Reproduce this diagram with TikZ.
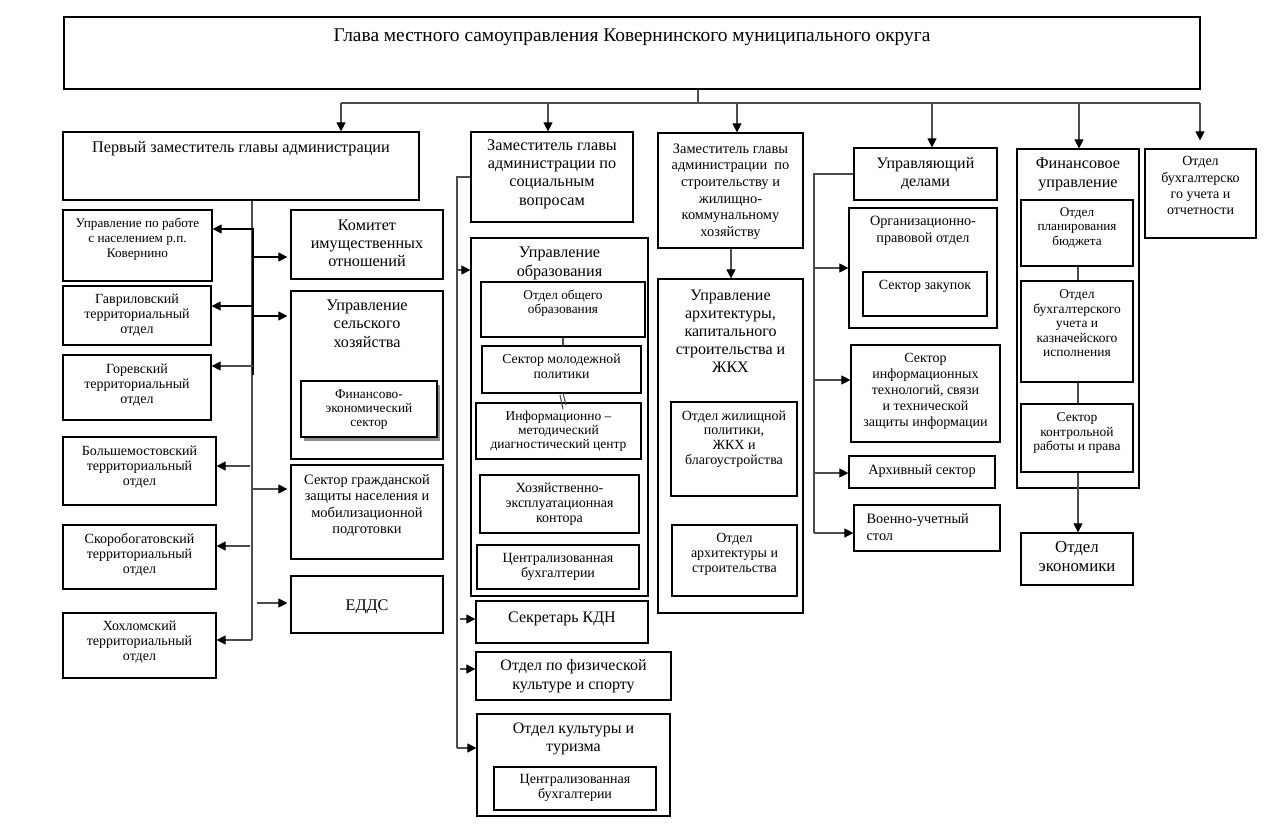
\documentclass[tikz,border=0pt]{standalone}
\usepackage{fontspec}
\setmainfont{Liberation Serif}
\usetikzlibrary{arrows.meta,fit,shadows,calc}
\newcommand\mybox[6][]{\node[box,#1,fit={(#3,#4) (#5,#6)}] (#2) {};}
\tikzset{
 box/.style={draw=black, line width=1.2pt, inner sep=0pt, fill=white},
 conn/.style={draw=black!70, line width=1.1pt},
 dark/.style={draw=black, line width=1.1pt},
 arr/.style={conn, -{Triangle[length=9pt,width=9pt,color=black]}},
 darr/.style={dark, -{Triangle[length=9pt,width=9pt,color=black]}},
 txt/.style={align=center, inner sep=0pt, anchor=north},
 fs/.style 2 args={font=\fontsize{#1}{#2}\selectfont},
 shd/.style={drop shadow={shadow xshift=3pt,shadow yshift=-4pt,fill=black!45,opacity=1}},
}
\begin{document}
\begin{tikzpicture}[x=1pt,y=-1pt]
\useasboundingbox (0,0) rectangle (1282,833);
% ---------- boxes ----------
\mybox{glava}{64}{17}{1200}{89}
\mybox{pervy}{63}{132}{419}{200}
\mybox{zsoc}{471}{132}{633}{222}
\mybox{zstr}{658}{133}{803}{248}
\mybox{upd}{854}{148}{997}{200}
\mybox{fin}{1017}{149}{1139}{488}
\mybox{obu}{1145}{149}{1256}{238}
\mybox{uprab}{63}{210}{212}{281}
\mybox{gavr}{63}{286}{211}{345}
\mybox{gorev}{63}{355}{211}{420}
\mybox{bolsh}{63}{437}{216}{505}
\mybox{skor}{63}{525}{216}{589}
\mybox{hohl}{63}{613}{216}{678}
\mybox{kom}{291}{210}{443}{279}
\mybox{selh}{291}{291}{443}{459}
\mybox[shd]{finek}{301}{381}{437}{437}
\mybox{grazh}{291}{465}{443}{559}
\mybox{edds}{291}{576}{443}{633}
\mybox{obr}{471}{238}{648}{596}
\mybox{obsh}{481}{282}{645}{337}
\mybox{molod}{482}{346}{641}{393}
\mybox{inform}{476}{403}{641}{459}
\mybox{hoz}{480}{475}{639}{533}
\mybox{cbuhA}{477}{545}{639}{589}
\mybox{kdn}{476}{601}{648}{643}
\mybox{fiz}{476}{652}{671}{700}
\mybox{kult}{477}{714}{670}{816}
\mybox{cbuhB}{494}{767}{656}{810}
\mybox{arh}{658}{279}{803}{613}
\mybox{zhil}{671}{402}{797}{496}
\mybox{arhstr}{672}{525}{797}{596}
\mybox{orgpr}{849}{208}{997}{328}
\mybox{zakup}{863}{272}{987}{316}
\mybox{infteh}{851}{345}{1000}{442}
\mybox{arhiv}{849}{456}{995}{488}
\mybox{voen}{854}{505}{1000}{551}
\mybox{plan}{1021}{200}{1133}{266}
\mybox{buhkazn}{1021}{281}{1133}{382}
\mybox{kontr}{1021}{404}{1133}{472}
\mybox{ekon}{1021}{533}{1133}{585}
% ---------- top bus ----------
\coordinate (j0) at (698,103);
\coordinate (d1) at (341,103);
\coordinate (d2) at (548,103);
\coordinate (d3) at (737,103);
\coordinate (d4) at (932,103);
\coordinate (d5) at (1079,103);
\coordinate (d6) at (1200,103);
\draw[conn] (j0 |- glava.south) -- (j0);
\draw[conn] (d1) -- (d6);
\draw[arr] (d1) -- (d1 |- pervy.north);
\draw[arr] (d2) -- (d2 |- zsoc.north);
\draw[arr] (d3) -- (d3 |- zstr.north);
\draw[arr] (d4) -- (d4 |- upd.north);
\draw[arr] (d5) -- (d5 |- fin.north);
\draw[arr, shorten >=8pt] (d6) -- (d6 |- obu.north);
% ---------- first deputy trunk ----------
\coordinate (p0) at (252,640);
\coordinate (pk1) at (253,228);
\coordinate (pk2) at (253,375);
\draw[conn] (p0 |- pervy.south) -- (p0);
\draw[dark] (pk1) -- (pk2);
\coordinate (pl1) at (253,229);
\coordinate (pl2) at (253,306);
\coordinate (pl3) at (253,366);
\coordinate (pl4) at (250,466);
\coordinate (pl5) at (250,546);
\coordinate (pl6) at (252,640);
\draw[darr] (pl1) -- (pl1 -| uprab.east);
\draw[darr] (pl2) -- (pl2 -| gavr.east);
\draw[arr] (pl3) -- (pl3 -| gorev.east);
\draw[arr] (pl4) -- (pl4 -| bolsh.east);
\draw[arr] (pl5) -- (pl5 -| skor.east);
\draw[arr] (pl6) -- (pl6 -| hohl.east);
\coordinate (pr1) at (253,257);
\coordinate (pr2) at (253,316);
\coordinate (pr3) at (253,489);
\coordinate (pr4) at (257,603);
\draw[darr, shorten >=3pt] (pr1) -- (pr1 -| kom.west);
\draw[darr, shorten >=3pt] (pr2) -- (pr2 -| selh.west);
\draw[arr, shorten >=3pt] (pr3) -- (pr3 -| grazh.west);
\draw[arr, shorten >=3pt] (pr4) -- (pr4 -| edds.west);
% ---------- social deputy trunk ----------
\coordinate (s0) at (457,748);
\draw[conn] (zsoc.west) -| (s0);
\coordinate (sa) at (457,270);
\coordinate (sb) at (460,619);
\coordinate (sc) at (460,669);
\draw[arr] (sa) -- (sa -| obr.west);
\draw[arr] (sb) -- (sb -| kdn.west);
\draw[arr] (sc) -- (sc -| fiz.west);
\draw[arr] (s0) -- (s0 -| kult.west);
\coordinate (ob1) at (563,0);
\draw[conn] (ob1 |- obsh.south) -- (ob1 |- molod.north);
\coordinate (sl1) at (560,395);
\coordinate (sl2) at (563,393);
\draw[conn] (sl1) -- ++(3,14);
\draw[conn] (sl2) -- ++(3,12);
% ---------- construction deputy ----------
\coordinate (za) at (731,0);
\draw[arr] (za |- zstr.south) -- (za |- arh.north);
% ---------- managing affairs trunk ----------
\coordinate (u0) at (814,533);
\draw[conn] (upd.west) -| (u0);
\coordinate (ua) at (814,268);
\coordinate (ub) at (814,380);
\coordinate (uc) at (814,473);
\draw[arr] (ua) -- (ua -| orgpr.west);
\draw[arr] (ub) -- (ub -| infteh.west);
\draw[arr] (uc) -- (uc -| arhiv.west);
\draw[arr] (u0) -- (u0 -| voen.west);
% ---------- finance ----------
\coordinate (fx) at (1078,0);
\draw[conn] (fx |- plan.south) -- (fx |- buhkazn.north);
\draw[conn] (fx |- buhkazn.south) -- (fx |- kontr.north);
\draw[arr] (fx |- kontr.south) -- (fx |- ekon.north);
% ---------- texts ----------
\node[txt,fs={19.4}{21}] (glava-t) at ([yshift=-12pt]glava.north) {Глава местного самоуправления Ковернинского муниципального округа};
\node[txt,fs={16.2}{18}] (pervy-t) at ([yshift=-10pt]pervy.north) {Первый заместитель главы администрации};
\node[txt,fs={16.2}{18.3}] (zsoc-t) at ([yshift=-8pt]zsoc.north) {Заместитель главы\\администрации по\\социальным\\вопросам};
\node[txt,fs={14.4}{16.7}] (zstr-t) at ([yshift=-11pt]zstr.north) {Заместитель главы\\администрации\ \ по\\строительству и\\жилищно-\\коммунальному\\хозяйству};
\node[txt,fs={16}{18}] (upd-t) at ([yshift=-10pt]upd.north) {Управляющий\\делами};
\node[txt,fs={16.2}{19}] (fin-t) at ([yshift=-9pt]fin.north) {Финансовое\\управление};
\node[txt,fs={14}{16.3}] (obu-t) at ([yshift=-8pt]obu.north) {Отдел\\бухгалтерско\\го учета и\\отчетности};
\node[txt,fs={13.2}{15}] (uprab-t) at ([yshift=-8pt]uprab.north) {Управление по работе\\с населением р.п.\\Ковернино};
\node[txt,fs={14}{15.3}] (gavr-t) at ([yshift=-8pt]gavr.north) {Гавриловский\\территориальный\\отдел};
\node[txt,fs={14}{15}] (gorev-t) at ([yshift=-9pt]gorev.north) {Горевский\\территориальный\\отдел};
\node[txt,fs={14}{15}] (bolsh-t) at ([yshift=-9pt]bolsh.north) {Большемостовский\\территориальный\\отдел};
\node[txt,fs={14}{15}] (skor-t) at ([yshift=-9pt]skor.north) {Скоробогатовский\\территориальный\\отдел};
\node[txt,fs={14}{15}] (hohl-t) at ([yshift=-8pt]hohl.north) {Хохломский\\территориальный\\отдел};
\node[txt,fs={16.2}{18}] (kom-t) at ([yshift=-10pt]kom.north) {Комитет\\имущественных\\отношений};
\node[txt,fs={16.2}{18.5}] (selh-t) at ([yshift=-9pt]selh.north) {Управление\\сельского\\хозяйства};
\node[txt,fs={13.3}{14}] (finek-t) at ([yshift=-9pt]finek.north) {Финансово-\\экономический\\сектор};
\node[txt,fs={14.4}{16.3}] (grazh-t) at ([yshift=-10pt]grazh.north) {Сектор гражданской\\защиты населения и\\мобилизационной\\подготовки};
\node[txt,fs={16.2}{18}] (edds-t) at ([yshift=-24pt]edds.north) {ЕДДС};
\node[txt,fs={16.2}{19}] (obr-t) at ([yshift=-9pt]obr.north) {Управление\\образования};
\node[txt,fs={13.3}{14}] (obsh-t) at ([yshift=-8pt]obsh.north) {Отдел общего\\образования};
\node[txt,fs={13.8}{15}] (molod-t) at ([yshift=-8pt]molod.north) {Сектор молодежной\\политики};
\node[txt,fs={13.5}{14}] (inform-t) at ([yshift=-9pt]inform.north) {Информационно –\\методический\\диагностический центр};
\node[txt,fs={14}{15}] (hoz-t) at ([yshift=-8pt]hoz.north) {Хозяйственно-\\эксплуатационная\\контора};
\node[txt,fs={14}{15}] (cbuhA-t) at ([yshift=-9pt]cbuhA.north) {Централизованная\\бухгалтерии};
\node[txt,fs={16}{18}] (kdn-t) at ([yshift=-11pt]kdn.north) {Секретарь КДН};
\node[txt,fs={16}{19}] (fiz-t) at ([yshift=-8pt]fiz.north) {Отдел по физической\\культуре и спорту};
\node[txt,fs={16}{18}] (kult-t) at ([yshift=-9pt]kult.north) {Отдел культуры и\\туризма};
\node[txt,fs={14}{15}] (cbuhB-t) at ([yshift=-8pt]cbuhB.north) {Централизованная\\бухгалтерии};
\node[txt,fs={16}{18}] (arh-t) at ([yshift=-11pt]arh.north) {Управление\\архитектуры,\\капитального\\строительства и\\ЖКХ};
\node[txt,fs={14}{14.7}] (zhil-t) at ([yshift=-9pt]zhil.north) {Отдел жилищной\\политики,\\ЖКХ и\\благоустройства};
\node[txt,fs={14}{14.7}] (arhstr-t) at ([yshift=-9pt]arhstr.north) {Отдел\\архитектуры и\\строительства};
\node[txt,fs={14.2}{17}] (orgpr-t) at ([yshift=-8pt]orgpr.north) {Организационно-\\правовой отдел};
\node[txt,fs={14}{15}] (zakup-t) at ([yshift=-9pt]zakup.north) {Сектор закупок};
\node[txt,fs={14}{15.8}] (infteh-t) at ([yshift=-9pt]infteh.north) {Сектор\\информационных\\технологий, связи\\и технической\\защиты информации};
\node[txt,fs={14.3}{16}] (arhiv-t) at ([yshift=-9pt]arhiv.north) {Архивный сектор};
\node[txt,fs={14.3}{17},align=left,anchor=north west] (voen-t) at ([xshift=13pt,yshift=-9pt]voen.north west) {Военно-учетный\\стол};
\node[txt,fs={13.2}{14.5}] (plan-t) at ([yshift=-8pt]plan.north) {Отдел\\планирования\\бюджета};
\node[txt,fs={13.5}{14.5}] (buhkazn-t) at ([yshift=-9pt]buhkazn.north) {Отдел\\бухгалтерского\\учета и\\казначейского\\исполнения};
\node[txt,fs={13.5}{14.5}] (kontr-t) at ([yshift=-9pt]kontr.north) {Сектор\\контрольной\\работы и права};
\node[txt,fs={16.8}{19}] (ekon-t) at ([yshift=-9pt]ekon.north) {Отдел\\экономики};
\end{tikzpicture}
\end{document}
